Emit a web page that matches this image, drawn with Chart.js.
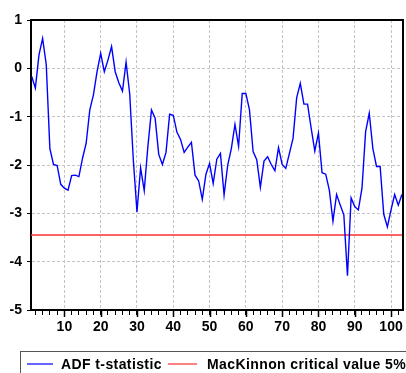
<!DOCTYPE html>
<html>
<head>
<meta charset="utf-8">
<script src="https://cdn.jsdelivr.net/npm/chart.js@4/dist/chart.umd.min.js"></script>
<style>
  html, body { margin: 0; padding: 0; background: #fff; }
  #wrap { width: 406px; height: 373px; overflow: hidden; }
</style>
</head>
<body>
<div id="wrap"><canvas id="chart" width="406" height="373"></canvas></div>
<script>
const adfValues = [
  -0.17, -0.41, 0.28, 0.62, 0.08, -1.66, -1.99, -2.01, -2.40, -2.48,
  -2.52, -2.22, -2.21, -2.24, -1.86, -1.55, -0.86, -0.55, -0.07, 0.31,
  -0.07, 0.17, 0.45, -0.07, -0.30, -0.47, 0.13, -0.53, -1.90, -2.97,
  -2.06, -2.53, -1.62, -0.86, -1.03, -1.78, -1.99, -1.74, -0.95, -0.97,
  -1.32, -1.47, -1.74, -1.63, -1.53, -2.21, -2.33, -2.71, -2.19, -1.97,
  -2.38, -1.88, -1.76, -2.62, -2.00, -1.66, -1.16, -1.61, -0.52, -0.52,
  -0.86, -1.72, -1.89, -2.46, -1.92, -1.83, -1.99, -2.12, -1.64, -1.99,
  -2.07, -1.76, -1.45, -0.61, -0.31, -0.74, -0.74, -1.24, -1.71, -1.34,
  -2.16, -2.19, -2.52, -3.16, -2.61, -2.83, -3.03, -4.29, -2.68, -2.86,
  -2.93, -2.48, -1.31, -0.93, -1.66, -2.03, -2.03, -3.02, -3.28, -2.93,
  -2.61, -2.83, -2.61
];
const criticalValue = -3.45;

const xTicks = [2, 4, 6, 8, 10, 12, 14, 16, 18, 20, 22, 24, 26, 28, 30, 32, 34, 36, 38, 40,
  42, 44, 46, 48, 50, 52, 54, 56, 58, 60, 62, 64, 66, 68, 70, 72, 74, 76, 78, 80,
  82, 84, 86, 88, 90, 92, 94, 96, 98, 100, 102];
const xTickLabels = ['10', '20', '30', '40', '50', '60', '70', '80', '90', '100'];
const yTickLabels = ['-5', '-4', '-3', '-2', '-1', '0', '1'];
const seriesNames = ['ADF t-statistic', 'MacKinnon critical value 5%'];
const xMin = 0.8, xMax = 103.3;

const gridGray = '#c4c4c4';
const fontFamily = "'Liberation Sans', Arial, sans-serif";

// frame on top/right, longer major ticks, legend box at the bottom
const framePlugin = {
    id: 'frame',
    afterDraw(chart) {
        const ctx = chart.ctx;
        const a = chart.chartArea;
        const xs = chart.scales.x;
        ctx.save();
        ctx.strokeStyle = '#000';
        ctx.lineWidth = 2;
        ctx.beginPath();
        ctx.moveTo(a.left, a.top);
        ctx.lineTo(a.right, a.top);
        ctx.lineTo(a.right, a.bottom);
        ctx.stroke();

        ctx.lineWidth = 1.5;
        xTickLabels.forEach(l => {
            const px = Math.round(xs.getPixelForValue(Number(l))) + 0.5;
            ctx.beginPath();
            ctx.moveTo(px, a.bottom);
            ctx.lineTo(px, a.bottom + 7);
            ctx.stroke();
        });

        // legend
        const boxTop = 351, mid = 364;
        ctx.strokeStyle = '#555';
        ctx.lineWidth = 1;
        ctx.strokeRect(20.5, boxTop + 0.5, 400, 40);
        ctx.font = 'bold 14px ' + fontFamily;
        ctx.textBaseline = 'middle';
        ctx.fillStyle = '#000';
        if ('letterSpacing' in ctx) ctx.letterSpacing = '0.4px';
        const items = [
            { color: '#0000ff', x1: 27, x2: 53, tx: 61 },
            { color: '#ff3030', x1: 168, x2: 197, tx: 207 }
        ];
        items.forEach((it, i) => {
            ctx.strokeStyle = it.color;
            ctx.lineWidth = 1.2;
            ctx.beginPath();
            ctx.moveTo(it.x1, mid);
            ctx.lineTo(it.x2, mid);
            ctx.stroke();
            ctx.fillText(seriesNames[i], it.tx, mid + 1);
        });
        ctx.restore();
    }
};

new Chart(document.getElementById('chart'), {
    type: 'line',
    data: {
        datasets: [
            {
                label: seriesNames[0],
                data: adfValues.map((v, i) => ({ x: i + 1, y: v })),
                borderColor: '#0000ff',
                borderWidth: 1.4,
                pointRadius: 0,
                tension: 0,
                fill: false
            },
            {
                label: seriesNames[1],
                data: [{ x: xMin, y: criticalValue }, { x: xMax, y: criticalValue }],
                borderColor: '#ff3030',
                borderWidth: 1.5,
                pointRadius: 0,
                fill: false
            }
        ]
    },
    options: {
        responsive: false,
        animation: false,
        devicePixelRatio: 1,
        layout: { padding: { top: 20, right: 3, left: 0, bottom: 38 } },
        plugins: {
            legend: { display: false },
            tooltip: { enabled: false }
        },
        scales: {
            x: {
                type: 'linear',
                min: xMin,
                max: xMax,
                afterBuildTicks: (scale) => {
                    scale.ticks = xTicks.map(v => ({ value: v }));
                },
                afterFit: (scale) => { scale.height = 25; },
                ticks: {
                    autoSkip: false,
                    maxRotation: 0,
                    padding: 4,
                    color: '#000',
                    font: { family: fontFamily, size: 14, weight: 'bold' },
                    callback: (v) => {
                        const idx = xTickLabels.indexOf(String(v));
                        return idx >= 0 ? xTickLabels[idx] : '';
                    }
                },
                grid: {
                    color: (c) => (c.tick && c.tick.value % 10 === 0 ? gridGray : 'rgba(0,0,0,0)'),
                    lineWidth: 1,
                    tickColor: '#000',
                    tickLength: 5,
                    tickWidth: 1
                },
                border: { display: true, color: '#000', width: 2, dash: [3, 2] }
            },
            y: {
                type: 'linear',
                min: -5,
                max: 1,
                afterFit: (scale) => { scale.width = 31; },
                ticks: {
                    stepSize: 1,
                    padding: 5,
                    color: '#000',
                    font: { family: fontFamily, size: 14, weight: 'bold' },
                    callback: (v) => {
                        const s = String(v);
                        return yTickLabels.includes(s) ? s : '';
                    }
                },
                grid: {
                    color: (c) => (c.tick && (c.tick.value === -5 || c.tick.value === 1) ? 'rgba(0,0,0,0)' : gridGray),
                    lineWidth: 1,
                    tickColor: '#000',
                    tickLength: 4,
                    tickWidth: 1
                },
                border: { display: true, color: '#000', width: 2, dash: [3, 2] }
            }
        }
    },
    plugins: [framePlugin]
});
</script>
</body>
</html>
